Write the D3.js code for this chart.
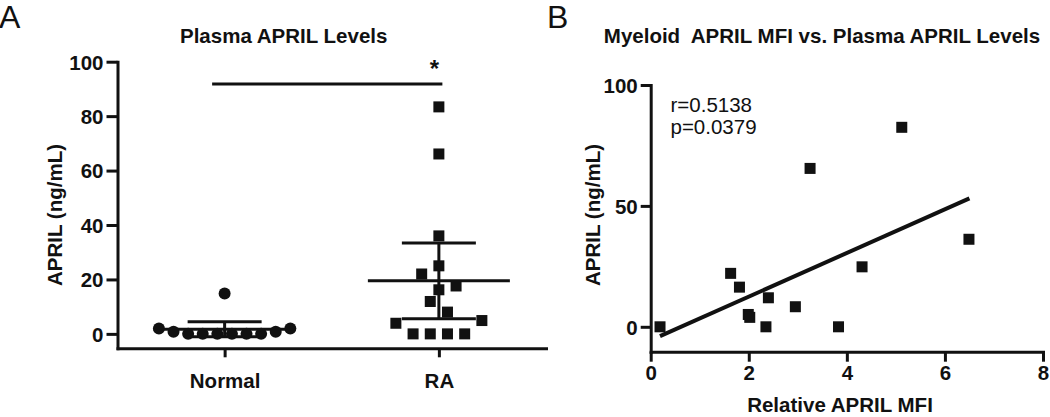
<!DOCTYPE html>
<html>
<head>
<meta charset="utf-8">
<script src="https://cdn.jsdelivr.net/npm/d3@7"></script>
<style>
  html, body { margin: 0; padding: 0; background: #fff; }
  svg text { font-family: "Liberation Sans", Arial, Helvetica, sans-serif; fill: #111; }
</style>
</head>
<body>
<svg id="chart" width="1050" height="417"></svg>
<script>
// ---------- Data ----------
const groups = ["Normal", "RA"];
const normalValues = [14.8, 2.0, 0.8, 0, 0, 0, 0, 0, 0, 0.8, 2.0];
const normalJitter = [0, -4.5, -3.5, -2.5, -1.5, -0.5, 0.5, 1.5, 2.5, 3.5, 4.5];
const raValues = [83.4, 66.1, 36.0, 25.0, 22.0, 17.6, 16.2, 11.9, 8.0, 3.9, 4.9, 0, 0, 0, 0];
const raJitter = [0, 0, 0, 0, -1, 1, 0, -0.5, 0.5, -2.5, 2.5, -1.5, -0.5, 0.5, 1.5];
const groupMean = [1.7, 19.5];
const groupSD = [2.8, 13.9];
const yTicksA = [0, 20, 40, 60, 80, 100];
const sigLevel = 91.8;
const sigMark = "*";

const mfiX = [0.19, 1.63, 1.81, 1.99, 2.02, 2.35, 2.40, 2.95, 3.25, 3.83, 4.31, 5.12, 6.49];
const mfiY = [0, 22.1, 16.4, 5.1, 3.9, 0, 12.0, 8.3, 65.5, 0, 24.8, 82.5, 36.2];
const fitX = [0.19, 6.50];
const fitY = [-3.85, 53.1];
const xTicksB = [0, 2, 4, 6, 8];
const yTicksB = [0, 50, 100];
const statsText = ["r=0.5138", "p=0.0379"];

const titleA = "Plasma APRIL Levels";
const titleB = "Myeloid  APRIL MFI vs. Plasma APRIL Levels";
const yLabel = "APRIL (ng/mL)";
const xLabelB = "Relative APRIL MFI";

// ---------- Setup ----------
const svg = d3.select("#chart");
const ink = "#111";
const FS = 20.5;

function styleAxis(g, fs) {
  g.select(".domain").attr("stroke", ink).attr("stroke-width", 3).attr("stroke-linecap", "square");
  g.selectAll(".tick line").attr("stroke", ink).attr("stroke-width", 3);
  g.selectAll(".tick text").attr("fill", ink).attr("font-size", fs).attr("font-weight", "bold")
    .attr("font-family", "'Liberation Sans', Arial, sans-serif");
}

// ---------- Panel A ----------
const xA = d3.scalePoint().domain(groups).range([117.5, 546]).padding(0.5);
const yA = d3.scaleLinear().domain([-5.3, 100]).range([348.3, 61.7]);

const gA = svg.append("g");

const yAxisA = gA.append("g").attr("transform", "translate(117.5,0)")
  .call(d3.axisLeft(yA).tickValues(yTicksA).tickSize(11).tickSizeOuter(0).tickPadding(3));
styleAxis(yAxisA, FS);
yAxisA.selectAll(".tick text").attr("dy", "0.36em");

const xAxisA = gA.append("g").attr("transform", "translate(0,348.3)")
  .call(d3.axisBottom(xA).tickSize(9).tickSizeOuter(0));
styleAxis(xAxisA, FS);
xAxisA.selectAll(".tick text").attr("y", 40).attr("dy", 0);

// mean & SD lines
const meanHalf = 71, capHalf = 37;
groups.forEach((gname, i) => {
  const cx = xA(gname);
  const m = groupMean[i], s = groupSD[i];
  gA.append("line").attr("x1", cx - meanHalf).attr("x2", cx + meanHalf)
    .attr("y1", yA(m)).attr("y2", yA(m)).attr("stroke", ink).attr("stroke-width", 3);
  [m + s, m - s].forEach(v => {
    gA.append("line").attr("x1", cx - capHalf).attr("x2", cx + capHalf)
      .attr("y1", yA(v)).attr("y2", yA(v)).attr("stroke", ink).attr("stroke-width", 3);
  });
  gA.append("line").attr("x1", cx).attr("x2", cx)
    .attr("y1", yA(m + s)).attr("y2", yA(m - s)).attr("stroke", ink).attr("stroke-width", 3);
});

// points
const normalStep = 14.6, raStep = 17.2;
gA.selectAll("circle.norm").data(normalValues).join("circle")
  .attr("class", "norm")
  .attr("cx", (d, i) => xA("Normal") + normalJitter[i] * normalStep)
  .attr("cy", d => yA(d))
  .attr("r", 6)
  .attr("fill", ink);

const sq = 11;
gA.selectAll("rect.ra").data(raValues).join("rect")
  .attr("class", "ra")
  .attr("x", (d, i) => xA("RA") + raJitter[i] * raStep - sq / 2)
  .attr("y", d => yA(d) - sq / 2)
  .attr("width", sq).attr("height", sq)
  .attr("fill", ink);

// significance bar
gA.append("line").attr("x1", xA("Normal") - 12.5).attr("x2", xA("RA") + 3.5)
  .attr("y1", yA(sigLevel)).attr("y2", yA(sigLevel)).attr("stroke", ink).attr("stroke-width", 3);
gA.append("text").attr("x", xA("RA") - 4.5).attr("y", 77)
  .attr("text-anchor", "middle").attr("font-size", 24).attr("font-weight", "bold").text(sigMark);

// titles / labels
gA.append("text").attr("x", 283.7).attr("y", 43.3).attr("text-anchor", "middle")
  .attr("font-size", FS).attr("font-weight", "bold").text(titleA);
gA.append("text").attr("transform", "translate(61.7,215) rotate(-90)").attr("text-anchor", "middle")
  .attr("font-size", FS).attr("font-weight", "bold").text(yLabel);
svg.append("text").attr("x", -1).attr("y", 28).attr("font-size", 32).text("A");

// ---------- Panel B ----------
const xB = d3.scaleLinear().domain([0, 8]).range([650.7, 1043]);
const yB = d3.scaleLinear().domain([-10.3, 100]).range([351.7, 85]);
const gB = svg.append("g");

const yAxisB = gB.append("g").attr("transform", "translate(650.7,0)")
  .call(d3.axisLeft(yB).tickValues(yTicksB).tickSize(10).tickSizeOuter(0).tickPadding(3));
styleAxis(yAxisB, FS);
yAxisB.selectAll(".tick text").attr("dy", "0.36em");

const xAxisB = gB.append("g").attr("transform", "translate(0,351.7)")
  .call(d3.axisBottom(xB).tickValues(xTicksB).tickSize(10).tickSizeOuter(0));
styleAxis(xAxisB, FS);
xAxisB.selectAll(".tick text").attr("y", 28).attr("dy", 0);

// regression line
gB.append("line")
  .attr("x1", xB(fitX[0])).attr("y1", yB(fitY[0]))
  .attr("x2", xB(fitX[1])).attr("y2", yB(fitY[1]))
  .attr("stroke", ink).attr("stroke-width", 4);

gB.selectAll("rect.pt").data(mfiX).join("rect")
  .attr("class", "pt")
  .attr("x", (d) => xB(d) - sq / 2)
  .attr("y", (d, i) => yB(mfiY[i]) - sq / 2)
  .attr("width", sq).attr("height", sq)
  .attr("fill", ink);

gB.selectAll("text.stat").data(statsText).join("text")
  .attr("class", "stat")
  .attr("x", 670.5).attr("y", (d, i) => 111.7 + i * 22.3)
  .attr("font-size", FS).text(d => d);

gB.append("text").attr("x", 822).attr("y", 43).attr("text-anchor", "middle")
  .attr("font-size", FS).attr("font-weight", "bold").style("white-space", "pre").text(titleB);
gB.append("text").attr("transform", "translate(600,215) rotate(-90)").attr("text-anchor", "middle")
  .attr("font-size", FS).attr("font-weight", "bold").text(yLabel);
gB.append("text").attr("x", 840).attr("y", 412).attr("text-anchor", "middle")
  .attr("font-size", FS).attr("font-weight", "bold").text(xLabelB);
svg.append("text").attr("x", 547).attr("y", 28).attr("font-size", 32).text("B");
</script>
</body>
</html>
